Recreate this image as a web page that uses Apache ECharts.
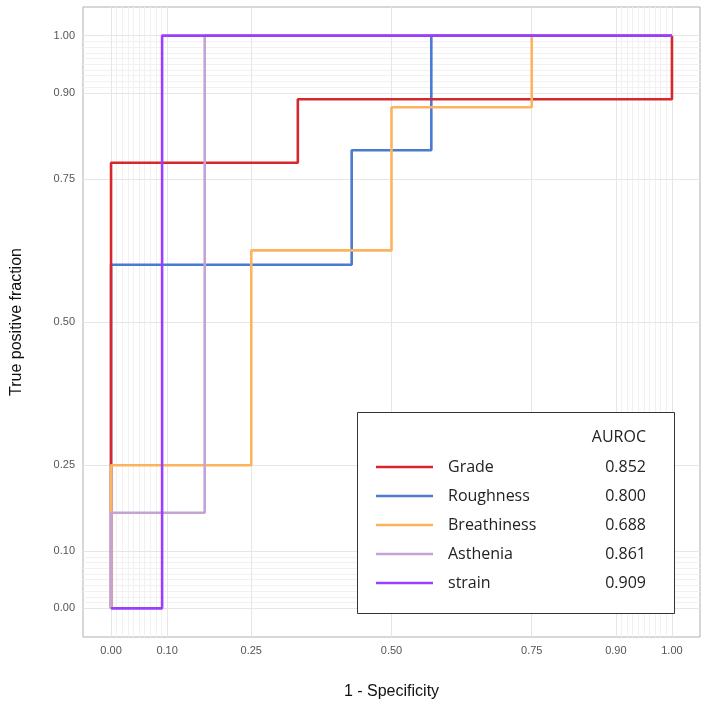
<!DOCTYPE html>
<html><head><meta charset="utf-8">
<script src="https://cdn.jsdelivr.net/npm/echarts@6/dist/echarts.min.js"></script>
<style>html,body{margin:0;padding:0;background:#fff}#c{width:710px;height:706px}</style>
</head><body><div id="c"></div>
<script>
const seriesNames = ['Grade','Roughness','Breathiness','Asthenia','strain'];
const aurocs = ['0.852','0.800','0.688','0.861','0.909'];
const colors = ['#D8272C','#4A7BD0','#FDB35E','#C3A3D3','#9B3DFF'];
const drawOrder = [11, 10, 12, 13, 14];
const gradeFPF = [0, 0, 0.333, 0.333, 1, 1];
const gradeTPF = [0, 0.778, 0.778, 0.889, 0.889, 1];
const roughFPF = [0, 0, 0.429, 0.429, 0.571, 0.571, 1];
const roughTPF = [0, 0.6, 0.6, 0.8, 0.8, 1, 1];
const breathFPF = [0, 0, 0.25, 0.25, 0.5, 0.5, 0.75, 0.75, 1];
const breathTPF = [0, 0.25, 0.25, 0.625, 0.625, 0.875, 0.875, 1, 1];
const asthFPF = [0, 0, 0.167, 0.167, 1];
const asthTPF = [0, 0.167, 0.167, 1, 1];
const strainFPF = [0, 0.091, 0.091, 1];
const strainTPF = [0, 0, 1, 1];
const majorBreaks = [0, 0.1, 0.25, 0.5, 0.75, 0.9, 1];
const minorBreaks = [0.01,0.02,0.03,0.04,0.05,0.06,0.07,0.08,0.09,0.91,0.92,0.93,0.94,0.95,0.96,0.97,0.98,0.99];

const curves = [[gradeFPF,gradeTPF],[roughFPF,roughTPF],[breathFPF,breathTPF],[asthFPF,asthTPF],[strainFPF,strainTPF]];
const chart = echarts.init(document.getElementById('c'), null, {renderer:'canvas'});

function gridLines(vals, color){
  const d = [];
  vals.forEach(v => { d.push({xAxis: v}); d.push({yAxis: v}); });
  return {
    type:'line', data:[], silent:true, z:1,
    markLine:{silent:true, symbol:'none', label:{show:false}, animation:false,
      lineStyle:{color:color, width:1, type:'solid'}, data:d}
  };
}

const lineSeries = curves.map((c,i) => ({
  type:'line', name:seriesNames[i], z:drawOrder[i], showSymbol:false, animation:false,
  lineStyle:{color:colors[i], width:2.6}, itemStyle:{color:colors[i]},
  data: c[0].map((x,j) => [x, c[1][j]])
}));

const axisCommon = {
  type:'value', min:-0.05, max:1.05,
  splitLine:{show:false}, axisLine:{show:false},
  axisTick:{show:true, customValues: majorBreaks, length:4, lineStyle:{color:'#999'}},
  axisLabel:{customValues: majorBreaks, formatter: v => v.toFixed(2), color:'#555', fontSize:11, fontFamily:'Liberation Sans'},
  nameLocation:'middle',
  nameTextStyle:{color:'#111', fontSize:16, fontFamily:'Liberation Sans'}
};

const legX = 357, legY = 412, legW = 317, legH = 201;
const gfx = [{type:'rect', shape:{x:legX+0.5,y:legY+0.5,width:legW,height:legH}, style:{fill:'#fff', stroke:'#333', lineWidth:1}, z:100},
  {type:'text', x:646, y:437, style:{text:'AUROC', fill:'#222', font:'16px "Open Sans"', textAlign:'right', textVerticalAlign:'middle'}, z:101}];
seriesNames.forEach((n,i) => {
  const y = 467 + i*29;
  gfx.push({type:'line', shape:{x1:376,y1:y,x2:433,y2:y}, style:{stroke:colors[i], lineWidth:2.6}, z:101});
  gfx.push({type:'text', x:448, y:y, style:{text:n, fill:'#222', font:'16px "Open Sans"', textVerticalAlign:'middle'}, z:101});
  gfx.push({type:'text', x:646, y:y, style:{text:aurocs[i], fill:'#222', font:'16px "Open Sans"', textAlign:'right', textVerticalAlign:'middle'}, z:101});
});

chart.setOption({
  animation:false,
  backgroundColor:'#fff',
  grid:{left:83, right:10, top:7, bottom:69, containLabel:false, outerBoundsMode:'none', show:true, borderColor:'#AFAFAF', borderWidth:1, backgroundColor:'#fff'},
  xAxis: Object.assign({}, axisCommon, {name:'1 - Specificity', nameGap:47}),
  yAxis: Object.assign({}, axisCommon, {name:'True positive fraction', nameGap:58}),
  series: [gridLines(minorBreaks, '#F1F1F1'), gridLines(majorBreaks, '#E6E6E6')].concat(lineSeries),
  graphic: gfx
});
</script></body></html>
